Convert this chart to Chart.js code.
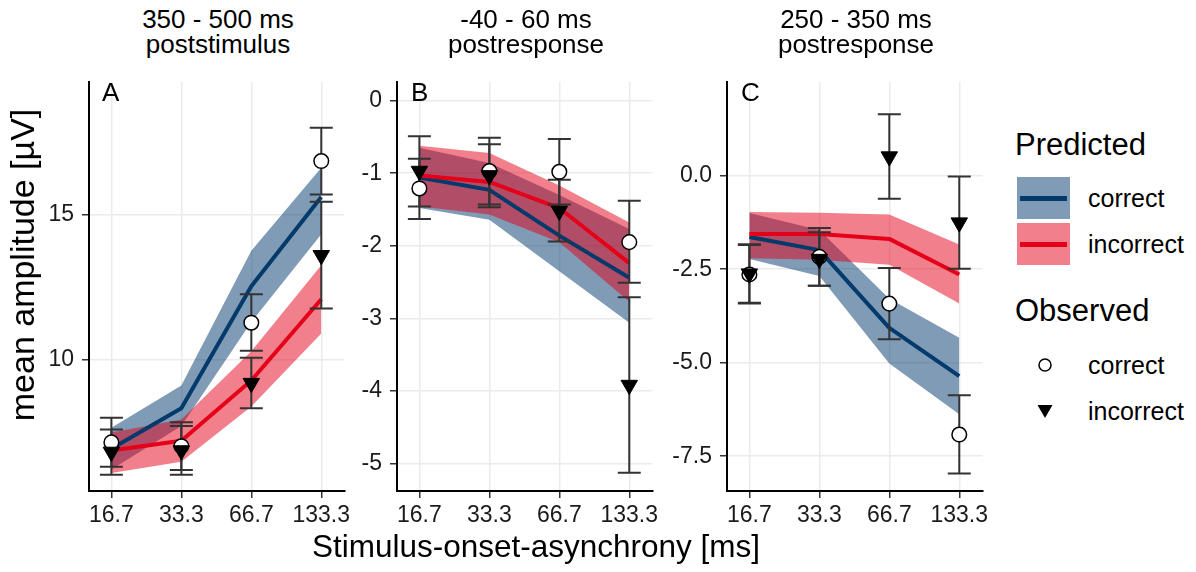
<!DOCTYPE html>
<html>
<head>
<meta charset="utf-8">
<script src="https://cdn.jsdelivr.net/npm/chart.js@4.4.1/dist/chart.umd.min.js"></script>
<style>
  body { margin: 0; background: #fff; font-family: "Liberation Sans", Arial, sans-serif; }
  #wrap { position: relative; width: 1196px; height: 572px; overflow: hidden; background: #fff; }
  canvas { position: absolute; top: 60px; }
  .txt { position: absolute; white-space: nowrap; color: #000; }
  .ptitle { font-size: 26px; line-height: 25px; text-align: center; width: 300px; }
  .letter { font-size: 26px; line-height: 30px; }
  .lg-title { font-size: 31px; line-height: 34px; }
  .lg-label { font-size: 25px; line-height: 30px; }
  .key { position: absolute; width: 53px; height: 42px; }
  .key div { position: absolute; left: 3px; right: 3px; top: 19px; height: 5px; }
</style>
</head>
<body>
<div id="wrap">
  <canvas id="panelA" width="326" height="472" style="left:29px"></canvas>
  <canvas id="panelB" width="326" height="472" style="left:337px"></canvas>
  <canvas id="panelC" width="326" height="472" style="left:667px"></canvas>

  <div class="txt ptitle" style="left:68px;top:7px">350 - 500 ms<br>poststimulus</div>
  <div class="txt ptitle" style="left:376px;top:7px">-40 - 60 ms<br>postresponse</div>
  <div class="txt ptitle" style="left:706px;top:7px">250 - 350 ms<br>postresponse</div>

  <div class="txt letter" style="left:102px;top:77px">A</div>
  <div class="txt letter" style="left:411px;top:77px">B</div>
  <div class="txt letter" style="left:741px;top:77px">C</div>

  <div class="txt" style="left:236px;top:530px;width:600px;text-align:center;font-size:31.5px;line-height:32px">Stimulus-onset-asynchrony [ms]</div>
  <div class="txt" style="left:-178px;top:246px;width:400px;height:38px;text-align:center;font-size:34px;line-height:38px;transform:rotate(-90deg)">mean amplitude [µV]</div>

  <!-- legend -->
  <div class="txt lg-title" style="left:1015px;top:128px">Predicted</div>
  <div class="key" style="left:1017px;top:177px;background:rgba(0,55,108,0.5)"><div style="background:#023a6c"></div></div>
  <div class="key" style="left:1017px;top:223px;background:rgba(229,0,26,0.5)"><div style="background:#e5001a"></div></div>
  <div class="txt lg-label" style="left:1088px;top:183px">correct</div>
  <div class="txt lg-label" style="left:1088px;top:229px">incorrect</div>

  <div class="txt lg-title" style="left:1015px;top:294px">Observed</div>
  <svg style="position:absolute;left:1035px;top:355px" width="20" height="20"><circle cx="10" cy="10" r="6" fill="#fff" stroke="#000" stroke-width="1.5"/></svg>
  <svg style="position:absolute;left:1035px;top:401px" width="20" height="20"><polygon points="2.5,4 17.5,4 10,17" fill="#000"/></svg>
  <div class="txt lg-label" style="left:1088px;top:350px">correct</div>
  <div class="txt lg-label" style="left:1088px;top:396px">incorrect</div>
</div>

<script>
// x categories (stimulus-onset asynchrony, ms)
const soaLabels = ['16.7', '33.3', '66.7', '133.3'];

// Panel A: 350 - 500 ms poststimulus
const aPredCorrect = [6.91, 8.31, 12.53, 15.62];
const aPredCorrectLo = [6.19, 7.70, 11.29, 14.33];
const aPredCorrectHi = [7.64, 9.10, 13.76, 16.63];
const aPredIncorrect = [6.85, 7.19, 9.27, 12.08];
const aPredIncorrectLo = [6.07, 6.46, 8.37, 10.90];
const aPredIncorrectHi = [7.47, 7.92, 10.28, 13.26];
const aObsCorrect = [7.13, 7.00, 11.27, 16.86];
const aObsCorrectLo = [6.29, 6.18, 10.30, 15.70];
const aObsCorrectHi = [7.98, 7.83, 12.25, 18.01];
const aObsIncorrect = [6.80, 6.85, 9.18, 13.60];
const aObsIncorrectLo = [6.01, 6.01, 8.31, 11.76];
const aObsIncorrectHi = [7.58, 7.70, 10.06, 15.45];
const aTicks = [10, 15];

// Panel B: -40 - 60 ms postresponse
const bPredCorrect = [-1.06, -1.23, -1.86, -2.44];
const bPredCorrectLo = [-1.48, -1.64, -2.35, -3.06];
const bPredCorrectHi = [-0.65, -0.86, -1.30, -1.77];
const bPredIncorrect = [-1.03, -1.12, -1.48, -2.24];
const bPredIncorrectLo = [-1.46, -1.57, -1.95, -2.77];
const bPredIncorrectHi = [-0.62, -0.72, -1.17, -1.68];
const bObsCorrect = [-1.21, -0.97, -0.98, -1.95];
const bObsCorrectLo = [-1.63, -1.43, -1.43, -2.51];
const bObsCorrectHi = [-0.80, -0.51, -0.53, -1.38];
const bObsIncorrect = [-0.97, -1.03, -1.52, -3.92];
const bObsIncorrectLo = [-1.46, -1.47, -1.94, -5.13];
const bObsIncorrectHi = [-0.49, -0.60, -1.09, -2.71];
const bTicks = [0, -1, -2, -3, -4, -5];

// Panel C: 250 - 350 ms postresponse
const cPredCorrect = [-1.64, -1.99, -4.07, -5.36];
const cPredCorrectLo = [-2.23, -2.68, -5.02, -6.38];
const cPredCorrectHi = [-1.00, -1.45, -3.29, -4.33];
const cPredIncorrect = [-1.56, -1.56, -1.69, -2.64];
const cPredIncorrectLo = [-2.21, -2.25, -2.38, -3.42];
const cPredIncorrectHi = [-0.97, -0.99, -1.04, -1.84];
const cObsCorrect = [-2.64, -2.17, -3.42, -6.92];
const cObsCorrectLo = [-3.42, -2.94, -4.37, -7.96];
const cObsCorrectHi = [-1.83, -1.40, -2.47, -5.87];
const cObsIncorrect = [-2.62, -2.23, 0.51, -1.255];
const cObsIncorrectLo = [-3.40, -2.94, -0.62, -2.49];
const cObsIncorrectHi = [-1.85, -1.51, 1.64, -0.02];
const cTicks = [0, -2.5, -5, -7.5];

const BLUE = '#023a6c';
const BLUE_BAND = 'rgba(0,55,108,0.5)';
const RED = '#e5001a';
const RED_BAND = 'rgba(229,0,26,0.5)';

// turn a value array into {x,y} points at category index
function pts(arr) {
    return arr.map((v, i) => ({ x: i, y: v }));
}

// error bars drawn right after the last line, so the points sit on top
const errorBarPlugin = {
    id: 'errorBars',
    afterDatasetDraw(chart, args, opts) {
        if (args.index !== 5) return;
        const ctx = chart.ctx;
        const xs = chart.scales.x, ys = chart.scales.y;
        ctx.save();
        ctx.strokeStyle = '#333';
        ctx.lineWidth = 2;
        opts.bars.forEach(bar => {
            bar.lo.forEach((lo, i) => {
                const px = xs.getPixelForValue(i);
                const y1 = ys.getPixelForValue(bar.hi[i]);
                const y2 = ys.getPixelForValue(lo);
                ctx.beginPath();
                ctx.moveTo(px, y1); ctx.lineTo(px, y2);
                ctx.moveTo(px - 11.5, y1); ctx.lineTo(px + 11.5, y1);
                ctx.moveTo(px - 11.5, y2); ctx.lineTo(px + 11.5, y2);
                ctx.stroke();
            });
        });
        ctx.restore();
    }
};

function makePanel(id, p) {
    const n = 7; // datasets drawn back to front by order
    const datasets = [
        { data: pts(p.pcLo), borderColor: 'rgba(0,0,0,0)', borderWidth: 0, pointRadius: 0, fill: false },
        { data: pts(p.pcHi), borderColor: 'rgba(0,0,0,0)', borderWidth: 0, pointRadius: 0, fill: '-1', backgroundColor: BLUE_BAND },
        { data: pts(p.piLo), borderColor: 'rgba(0,0,0,0)', borderWidth: 0, pointRadius: 0, fill: false },
        { data: pts(p.piHi), borderColor: 'rgba(0,0,0,0)', borderWidth: 0, pointRadius: 0, fill: '-1', backgroundColor: RED_BAND },
        { data: pts(p.pc), borderColor: BLUE, borderWidth: 4, pointRadius: 0, fill: false, borderJoinStyle: 'round' },
        { data: pts(p.pi), borderColor: RED, borderWidth: 4, pointRadius: 0, fill: false, borderJoinStyle: 'round' },
        { data: pts(p.oc), showLine: false, pointStyle: 'circle', pointRadius: 7.3,
          pointBackgroundColor: '#fff', pointBorderColor: '#000', pointBorderWidth: 1.5 },
        { data: pts(p.oi), showLine: false, pointStyle: 'triangle', pointRotation: 180, pointRadius: 9.5,
          pointBackgroundColor: '#000', pointBorderColor: '#000', pointBorderWidth: 1 }
    ];
    datasets.forEach((d, i) => { d.order = n - i; d.tension = 0; d.clip = false; });

    return new Chart(document.getElementById(id), {
        type: 'line',
        data: { datasets: datasets },
        plugins: [errorBarPlugin],
        options: {
            responsive: false,
            animation: false,
            devicePixelRatio: 1,
            layout: { padding: { left: 0, right: 8, top: 10, bottom: 0 } },
            plugins: {
                legend: { display: false },
                tooltip: { enabled: false },
                errorBars: { bars: [
                    { lo: p.ocLo, hi: p.ocHi },
                    { lo: p.oiLo, hi: p.oiHi }
                ] }
            },
            scales: {
                x: {
                    type: 'linear',
                    min: -0.32, max: 3.33,
                    afterBuildTicks: s => { s.ticks = soaLabels.map((l, i) => ({ value: i })); },
                    afterFit: s => { s.height = 41; },
                    grid: { color: '#ebebeb', lineWidth: 1.5, tickColor: '#333', tickWidth: 1.5, tickLength: 7 },
                    border: { display: true, color: '#000', width: 2 },
                    ticks: {
                        padding: 4, maxRotation: 0, autoSkip: false,
                        color: '#1a1a1a', font: { family: 'Liberation Sans', size: 23 },
                        callback: v => soaLabels[v]
                    }
                },
                y: {
                    type: 'linear',
                    min: p.yMin, max: p.yMax,
                    afterBuildTicks: s => { s.ticks = p.ticks.map(v => ({ value: v })); },
                    afterFit: s => { s.width = 60; },
                    grid: { color: '#ebebeb', lineWidth: 1.5, tickColor: '#333', tickWidth: 1.5, tickLength: 7 },
                    border: { display: true, color: '#000', width: 2 },
                    ticks: {
                        padding: 8, autoSkip: false,
                        color: '#1a1a1a', font: { family: 'Liberation Sans', size: 23 },
                        callback: v => v.toFixed(p.digits)
                    }
                }
            }
        }
    });
}

makePanel('panelA', {
    pc: aPredCorrect, pcLo: aPredCorrectLo, pcHi: aPredCorrectHi,
    pi: aPredIncorrect, piLo: aPredIncorrectLo, piHi: aPredIncorrectHi,
    oc: aObsCorrect, ocLo: aObsCorrectLo, ocHi: aObsCorrectHi,
    oi: aObsIncorrect, oiLo: aObsIncorrectLo, oiHi: aObsIncorrectHi,
    yMin: 5.45, yMax: 19.6, ticks: aTicks, digits: 0
});
makePanel('panelB', {
    pc: bPredCorrect, pcLo: bPredCorrectLo, pcHi: bPredCorrectHi,
    pi: bPredIncorrect, piLo: bPredIncorrectLo, piHi: bPredIncorrectHi,
    oc: bObsCorrect, ocLo: bObsCorrectLo, ocHi: bObsCorrectHi,
    oi: bObsIncorrect, oiLo: bObsIncorrectLo, oiHi: bObsIncorrectHi,
    yMin: -5.38, yMax: 0.26, ticks: bTicks, digits: 0
});
makePanel('panelC', {
    pc: cPredCorrect, pcLo: cPredCorrectLo, pcHi: cPredCorrectHi,
    pi: cPredIncorrect, piLo: cPredIncorrectLo, piHi: cPredIncorrectHi,
    oc: cObsCorrect, ocLo: cObsCorrectLo, ocHi: cObsCorrectHi,
    oi: cObsIncorrect, oiLo: cObsIncorrectLo, oiHi: cObsIncorrectHi,
    yMin: -8.43, yMax: 2.51, ticks: cTicks, digits: 1
});
</script>
</body>
</html>
